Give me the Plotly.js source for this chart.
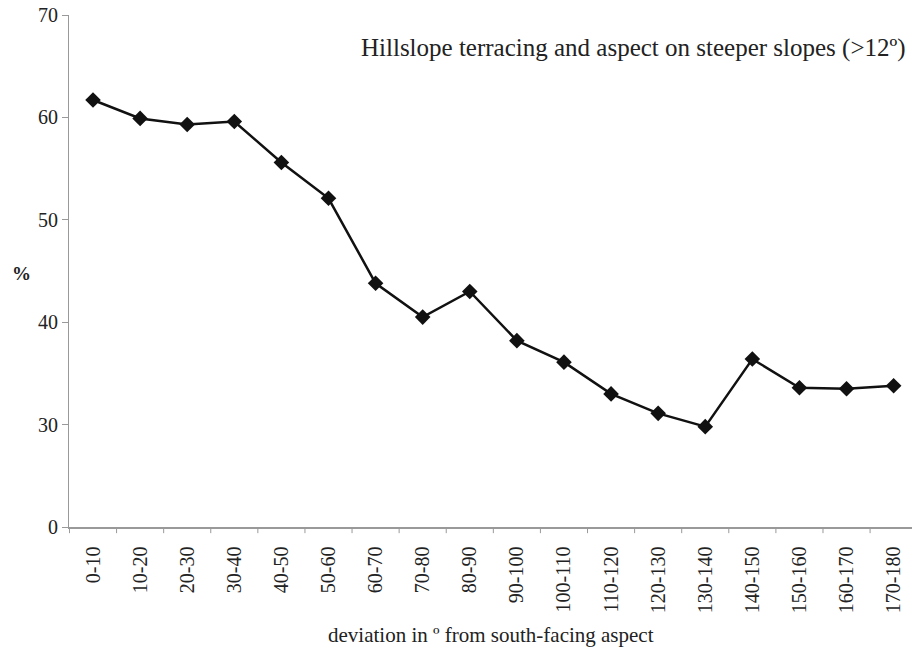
<!DOCTYPE html>
<html>
<head>
<meta charset="utf-8">
<script src="https://cdn.plot.ly/plotly-3.0.1.min.js"></script>
<style>html,body{margin:0;padding:0;background:#fff;}#chart{width:912px;height:647px;}</style>
</head>
<body>
<div id="chart"></div>
<script>
// Categories: deviation from south-facing aspect (degrees)
const categories = ["0-10","10-20","20-30","30-40","40-50","50-60","60-70","70-80","80-90","90-100","100-110","110-120","120-130","130-140","140-150","150-160","160-170","170-180"];
// Percentage of hillslope terracing (steeper slopes >12°)
const percentValues = [61.7, 59.9, 59.3, 59.6, 55.6, 52.1, 43.8, 40.5, 43.0, 38.2, 36.1, 33.0, 31.1, 29.8, 36.4, 33.6, 33.5, 33.8];
// Broken y axis: the bottom tick is labelled 0, then 30..70
const yTickVals = [20, 30, 40, 50, 60, 70];
const yTickText = ["0", "30", "40", "50", "60", "70"];

const serif = "Liberation Serif";

const trace = {
  x: categories.map((c, i) => i),
  y: percentValues,
  type: "scatter",
  mode: "lines+markers",
  line: {color: "#111", width: 2.5},
  marker: {symbol: "diamond", size: 12, color: "#111"},
  hoverinfo: "y"
};

const layout = {
  width: 912, height: 647,
  margin: {l: 69, r: 0, t: 15, b: 120},
  paper_bgcolor: "#fff", plot_bgcolor: "#fff",
  showlegend: false,
  font: {family: serif, color: "#222"},
  xaxis: {
    range: [-0.51, 17.39],
    tickmode: "array",
    tickvals: categories.map((c, i) => i),
    ticktext: categories,
    tickangle: -90,
    ticks: "",
    ticklabelstandoff: 10,
    showgrid: false, zeroline: false,
    showline: true, linecolor: "#999", linewidth: 1.5,
    tickfont: {family: serif, size: 20, color: "#222"}
  },
  yaxis: {
    range: [20, 70],
    tickmode: "array",
    tickvals: yTickVals,
    ticktext: yTickText,
    ticks: "outside", ticklen: 6, tickcolor: "#999", tickwidth: 1,
    showgrid: false, zeroline: false,
    showline: true, linecolor: "#999", linewidth: 1,
    tickfont: {family: serif, size: 20, color: "#222"}
  },
  shapes: categories.concat([""]).map((c, i) => ({
    type: "line", xref: "x", yref: "paper",
    x0: i - 0.5, x1: i - 0.5, y0: 0, y1: -0.012,
    line: {color: "#999", width: 1}
  })),
  annotations: [
    {text: "Hillslope terracing and aspect on steeper slopes (>12º)", xref: "paper", yref: "paper",
     x: 0.995, y: 0.935, xanchor: "right", yanchor: "middle", showarrow: false,
     font: {family: serif, size: 25, color: "#222"}},
    {text: "<b>%</b>", xref: "paper", yref: "paper", x: -0.043, y: 0.495,
     xanchor: "right", yanchor: "middle", showarrow: false,
     font: {family: serif, size: 19, color: "#222"}},
    {text: "deviation in º from south-facing aspect", xref: "paper", yref: "paper",
     x: 0.5, y: -0.211, xanchor: "center", yanchor: "middle", showarrow: false,
     font: {family: serif, size: 21, color: "#222"}}
  ]
};

Plotly.newPlot("chart", [trace], layout, {displayModeBar: false, staticPlot: true});
</script>
</body>
</html>
